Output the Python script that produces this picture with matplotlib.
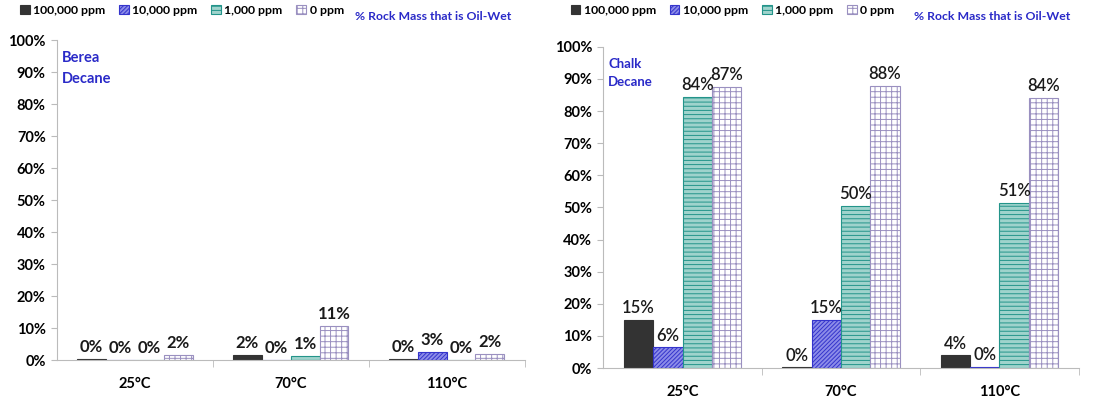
import matplotlib.pyplot as plt
import numpy as np
from matplotlib.patches import Patch

plt.rcParams['font.family'] = ['Lato', 'DejaVu Sans']
plt.rcParams['hatch.linewidth'] = 0.7

# ------ DATOS ------
temps = ['25°C', '70°C', '110°C']
series = ['100,000 ppm', '10,000 ppm', '1,000 ppm', '0 ppm']

berea_100k = [0.3, 1.5, 0.3]
berea_10k = [0.0, 0.0, 2.6]
berea_1k = [0.0, 1.3, 0.0]
berea_0 = [1.5, 10.6, 1.8]

chalk_100k = [15.0, 0.2, 3.9]
chalk_10k = [6.4, 15.0, 0.3]
chalk_1k = [84.4, 50.5, 51.3]
chalk_0 = [87.4, 87.9, 84.1]

# estilo de cada serie: (relleno, borde/trama, trama)
styles = [
    ('#333333', '#333333', None),
    ('#8c8ce8', '#3434cc', '////////'),
    ('#9fd3cc', '#23948a', '----'),
    ('white', '#9a90c0', '+++'),
]
blue = '#2a2ac8'


def draw_panel(ax, data, rect_label, label_weight, label_size):
    w = 0.185
    x = np.arange(len(temps))
    for k, vals in enumerate(data):
        fc, ec, hatch = styles[k]
        pos = x + (k - 1.5) * w
        ax.bar(pos, vals, width=w, facecolor=fc, edgecolor=ec,
               hatch=hatch, linewidth=0.8)
        for xi, v in zip(pos, vals):
            ax.text(xi, v + 1.2, f"{v:.0f}%", ha='center', va='bottom',
                    fontsize=12, fontweight=label_weight, color='#1a1a1a')
    ax.set_xlim(-0.5, 2.5)
    ax.set_ylim(0, 100)
    ax.set_yticks(np.arange(0, 101, 10))
    ax.set_yticklabels([f"{t}%" for t in range(0, 101, 10)],
                       fontsize=10.5, fontweight='bold')
    ax.set_xticks(x)
    ax.set_xticklabels(temps, fontsize=10.5, fontweight='bold')
    ax.set_xticks([0.5, 1.5, 2.5], minor=True)
    ax.tick_params(axis='x', which='major', length=0, pad=12)
    ax.tick_params(axis='x', which='minor', length=5, color='#bbbbbb')
    ax.tick_params(axis='y', length=4, color='#bbbbbb', pad=4)
    for s in ['top', 'right']:
        ax.spines[s].set_visible(False)
    for s in ['left', 'bottom']:
        ax.spines[s].set_color('#bbbbbb')
    ax.text(0.01, 0.965, rect_label, transform=ax.transAxes, ha='left',
            va='top', color=blue, fontsize=label_size, fontweight='bold',
            linespacing=1.6)


fig = plt.figure(figsize=(10.95, 3.97), dpi=100)
ax1 = fig.add_axes([0.052, 0.093, 0.427, 0.806])
ax2 = fig.add_axes([0.551, 0.073, 0.434, 0.809])

draw_panel(ax1, [berea_100k, berea_10k, berea_1k, berea_0],
           'Berea\nDecane', 'bold', 10.5)
draw_panel(ax2, [chalk_100k, chalk_10k, chalk_1k, chalk_0],
           'Chalk\nDecane', 'semibold', 9.5)

handles = [Patch(facecolor=fc, edgecolor=ec, hatch=h, linewidth=0.8)
           for fc, ec, h in styles]
for x0, xt in [(0.008, 0.324), (0.511, 0.835)]:
    fig.legend(handles, series, loc='upper left', bbox_to_anchor=(x0, 1.015),
               ncol=4, frameon=False, handlelength=0.8, handleheight=0.8,
               handletextpad=0.3, columnspacing=1.1,
               prop={'weight': 'bold', 'size': 8.8})
    fig.text(xt, 0.958, '% Rock Mass that is Oil-Wet', color=blue,
             fontsize=8.8, fontweight='bold', va='center')

fig.savefig('out.png', dpi=100)
